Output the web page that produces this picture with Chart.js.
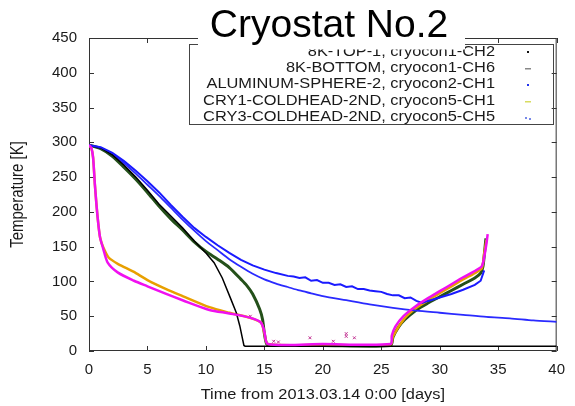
<!DOCTYPE html>
<html>
<head>
<meta charset="utf-8">
<script src="https://cdn.jsdelivr.net/npm/chart.js@4"></script>
<style>
  html, body { margin: 0; padding: 0; background: #fff; }
  canvas { display: block; }
</style>
</head>
<body>
<canvas id="chart" width="575" height="406"></canvas>
<script>
// series (days, kelvin)
const topDays = [0, 1, 2, 3, 4, 5, 6, 7, 8, 9, 10, 10.7, 11.4, 12.1, 12.6, 12.9, 13.1, 13.25, 13.35, 20, 30, 40];
const topTemp = [296, 292, 282, 267, 250, 231, 211, 194, 177, 158, 141, 127, 105, 76, 55, 36, 20, 8, 7, 7, 7, 7];

const bottomDays = [0, 1, 2, 3, 4, 5, 6, 7, 8, 9, 10, 11, 12, 13, 13.5, 14, 14.6, 14.85, 15, 15.2, 15.5, 20, 25.8, 26, 26.5, 27, 28, 29, 30, 31, 32, 33, 33.5, 33.7, 33.85, 33.95];
const bottomTemp = [296, 291, 280, 264, 247, 228, 208, 190, 174, 157, 143, 132, 120, 103, 94, 82, 60, 45, 25, 10, 8, 8, 8, 20, 35, 45, 59, 69, 78, 87, 96, 105, 112, 122, 145, 162];

const sphereDays = [0, 1, 2, 3, 4, 5, 6, 7, 8, 9, 10, 11, 12, 13, 14, 15, 16, 17, 17.5, 18, 18.5, 19, 19.5, 20, 20.5, 21, 21.5, 22, 22.5, 23, 23.5, 24, 24.5, 25, 25.5, 26, 26.5, 27, 27.5, 28, 28.5, 29, 30, 31, 32, 33, 33.5, 33.8];
const sphereTemp = [296, 293, 285, 273, 259, 244, 228, 210, 193, 177, 164, 152, 141, 131, 123, 117, 112, 108, 107, 105, 106, 101, 102, 98, 98, 95, 96, 92, 93, 89, 89, 87, 86, 85, 82, 80, 80, 76, 77, 72, 69, 72, 77, 82, 88, 95, 101, 116];

const coolDays = [0, 1, 2, 3, 4, 5, 6, 7, 8, 9, 10, 11, 12, 13, 14, 15, 16, 17, 18, 19, 20, 22, 24, 26, 28, 30, 32, 34, 36, 38, 40];
const coolTemp = [296, 292, 283, 270, 255, 239, 223, 206, 189, 173, 158, 145, 132, 121, 111, 103, 97, 92, 87, 83, 79, 73, 67, 62, 58, 55, 52, 49, 47, 44, 42];

const cry1Days = [0, 0.2, 0.35, 0.5, 0.65, 0.8, 0.95, 1.2, 1.7, 2.5, 3.8, 5, 6.6, 8, 10.3, 12, 13.7, 14.7, 15, 15.3, 20, 25.8, 26, 27, 28, 29, 30, 31, 32, 33, 33.6, 33.8, 34.0];
const cry1Temp = [296, 292, 278, 240, 208, 182, 163, 150, 134, 125, 114, 102, 89, 79, 63, 55, 48, 41, 26, 10, 9, 9, 21, 47, 62, 73, 83, 93, 103, 112, 119, 140, 160];

const cry3Days = [0, 0.2, 0.35, 0.5, 0.65, 0.8, 0.95, 1.2, 1.6, 2.45, 3.85, 5, 6.6, 8, 10.3, 12, 13.75, 14.7, 15, 15.3, 20, 25.8, 25.9, 26.2, 26.9, 28, 29, 30, 31, 32, 33, 33.6, 33.8, 34.0, 34.1];
const cry3Temp = [296, 292, 278, 240, 208, 182, 163, 148, 127, 113, 101, 93, 82, 73, 59, 54, 48, 41, 28, 10, 10, 10, 22, 35, 50, 65, 76, 86, 96, 106, 115, 122, 135, 155, 168];

const strayDays = [13.8, 15.8, 16.2, 18.9, 20.9, 22.0, 22.0, 22.7];
const strayTemp = [50, 14, 13, 19, 14, 25, 21, 19];

const seriesNames = [
    "8K-TOP-1, cryocon1-CH2",
    "8K-BOTTOM, cryocon1-CH6",
    "ALUMINUM-SPHERE-2, cryocon2-CH1",
    "CRY1-COLDHEAD-2ND, cryocon5-CH1",
    "CRY3-COLDHEAD-2ND, cryocon5-CH5"
];
const legendMarks = ["#111", "#888", "#2233ee", "#d8dc60", "#7788e8"];

const xTicks = { min: 0, max: 40, step: 5 };
const yTicks = { min: 0, max: 450, step: 50 };

const chartTitle = "Cryostat No.2";
const xTitle = "Time from 2013.03.14 0:00 [days]";
const yTitle = "Temperature [K]";

function pts(xs, ys) {
    return xs.map((x, i) => ({ x: x, y: ys[i] }));
}

const FONT = '"Liberation Sans", Arial, Helvetica, sans-serif';
const SX = 1.17; // the gnuplot picture is a little wider than tall

function wideText(ctx, text, x, y, size, align) {
    ctx.save();
    ctx.translate(x, y);
    ctx.scale(SX, 1);
    ctx.font = size + "px " + FONT;
    ctx.textAlign = align;
    ctx.textBaseline = "middle";
    ctx.fillText(text, 0, 0);
    ctx.restore();
}

// box frame with inward ticks, gnuplot style
const framePlugin = {
    id: "frame",
    beforeDatasetsDraw(chart) {
        const { ctx, chartArea: a, scales } = chart;
        ctx.save();
        ctx.strokeStyle = "#333";
        ctx.lineWidth = 1;
        ctx.strokeRect(a.left + 0.5, a.top + 0.5, a.right - a.left - 1, a.bottom - a.top - 1);
        ctx.beginPath();
        scales.x.ticks.forEach(t => {
            const px = Math.round(scales.x.getPixelForValue(t.value)) + 0.5;
            ctx.moveTo(px, a.bottom); ctx.lineTo(px, a.bottom - 5);
            ctx.moveTo(px, a.top); ctx.lineTo(px, a.top + 5);
        });
        scales.y.ticks.forEach(t => {
            const py = Math.round(scales.y.getPixelForValue(t.value)) + 0.5;
            ctx.moveTo(a.left, py); ctx.lineTo(a.left + 5, py);
            ctx.moveTo(a.right, py); ctx.lineTo(a.right - 5, py);
        });
        ctx.stroke();
        ctx.restore();
    },
    afterDraw(chart) {
        const { ctx, chartArea: a } = chart;
        ctx.save();
        ctx.fillStyle = "#1a1a1a";

        // axis titles
        wideText(ctx, xTitle, (a.left + a.right) / 2, 395, 14, "center");
        ctx.save();
        ctx.translate(18, (a.top + a.bottom) / 2);
        ctx.scale(SX, 1);
        ctx.rotate(-Math.PI / 2);
        ctx.font = "15px " + FONT;
        ctx.textAlign = "center";
        ctx.textBaseline = "middle";
        ctx.fillText(yTitle, 0, 0);
        ctx.restore();

        // key box
        ctx.strokeStyle = "#444";
        ctx.lineWidth = 1;
        ctx.strokeRect(189.5, 44.5, 364, 80);
        seriesNames.forEach((name, i) => {
            const y = 51.8 + i * 16.4;
            ctx.fillStyle = "#1a1a1a";
            wideText(ctx, name, 495, y, 14, "right");
            ctx.fillStyle = legendMarks[i];
            if (i % 2 === 1) {
                ctx.fillRect(525, Math.round(y), 6, 1.5);
            } else if (i === 4) {
                ctx.fillRect(525, Math.round(y), 2, 2);
                ctx.fillRect(529, Math.round(y) + 1, 2, 2);
            } else {
                ctx.fillRect(527, Math.round(y) - 1, 2, 2);
            }
        });

        // title pasted on top in a white box
        ctx.fillStyle = "#fff";
        ctx.fillRect(198, 0, 267, 49.5);
        ctx.fillStyle = "#000";
        ctx.font = "39px " + FONT;
        ctx.textAlign = "center";
        ctx.textBaseline = "alphabetic";
        ctx.fillText(chartTitle, 329, 37);
        ctx.restore();
    }
};

const lineDefaults = { showLine: true, pointRadius: 0, fill: false, tension: 0.25 };

new Chart(document.getElementById("chart").getContext("2d"), {
    type: "scatter",
    data: {
        datasets: [
            { ...lineDefaults, label: seriesNames[0], data: pts(topDays, topTemp), borderColor: "#000", borderWidth: 1.5, tension: 0, order: 2 },
            { ...lineDefaults, label: seriesNames[1], data: pts(bottomDays, bottomTemp), borderColor: "#24501a", borderWidth: 3, order: 5 },
            { ...lineDefaults, label: seriesNames[2], data: pts(sphereDays, sphereTemp), borderColor: "#1a1aff", borderWidth: 2, tension: 0, order: 1 },
            { ...lineDefaults, label: seriesNames[3], data: pts(cry1Days, cry1Temp), borderColor: "#e8a000", borderWidth: 2.5, order: 4 },
            { ...lineDefaults, label: seriesNames[4], data: pts(cry3Days, cry3Temp), borderColor: "#f010f0", borderWidth: 2.5, order: 0 },
            { ...lineDefaults, label: "", data: pts(coolDays, coolTemp), borderColor: "#2a2aff", borderWidth: 1.8, order: 3 },
            { label: "", data: pts(strayDays, strayTemp), showLine: false, pointStyle: "crossRot", pointRadius: 2,
              borderColor: "#c03090", borderWidth: 1, order: 6 }
        ]
    },
    options: {
        responsive: false,
        animation: false,
        layout: { padding: { top: 38, right: 7, left: 0, bottom: 0 } },
        plugins: {
            legend: { display: false },
            title: { display: false },
            tooltip: { enabled: false }
        },
        scales: {
            x: {
                type: "linear",
                min: xTicks.min,
                max: xTicks.max,
                grid: { display: false, drawTicks: false },
                border: { display: false },
                ticks: { stepSize: xTicks.step, padding: 10, color: "#1a1a1a", font: { size: 15, family: FONT } },
                afterFit: s => { s.height = 55; }
            },
            y: {
                min: yTicks.min,
                max: yTicks.max,
                grid: { display: false, drawTicks: false },
                border: { display: false },
                ticks: { stepSize: yTicks.step, padding: 12, color: "#1a1a1a", font: { size: 15, family: FONT } },
                afterFit: s => { s.width = 89; }
            }
        }
    },
    plugins: [framePlugin]
});
</script>
</body>
</html>
